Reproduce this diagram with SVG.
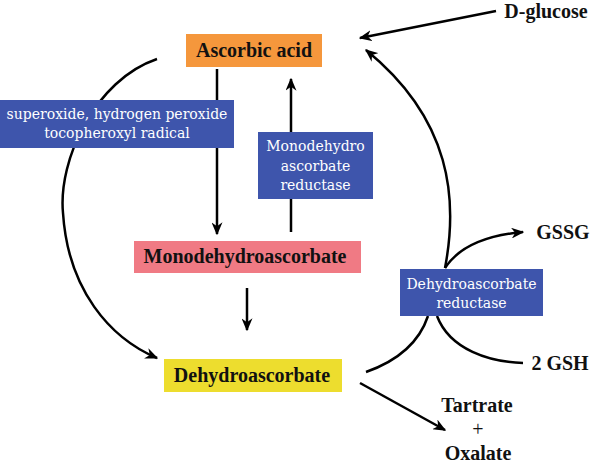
<svg xmlns="http://www.w3.org/2000/svg" width="592" height="465" viewBox="0 0 592 465">
<defs>
<marker id="ah" viewBox="0 0 10 10" refX="9" refY="5" markerWidth="13" markerHeight="11" markerUnits="userSpaceOnUse" orient="auto" preserveAspectRatio="none">
<path d="M0,0 L10,5 L0,10 L3,5 Z" fill="#000"/>
</marker>
<style>
.blk{font-family:"Liberation Serif","Times New Roman",serif;font-weight:bold;font-size:20px;fill:#111;text-anchor:middle}
.wht{font-family:"DejaVu Serif","Liberation Serif",serif;font-size:14px;fill:#fff;text-anchor:middle}
.ln{fill:none;stroke:#000;stroke-width:2.5}
.blue{fill:#3E55AC}
</style>
</defs>
<rect width="592" height="465" fill="#fff"/>
<g id="connectors">
<path class="ln" d="M217,69 L217,234" marker-end="url(#ah)"/>
<path class="ln" d="M291,232 L291,79" marker-end="url(#ah)"/>
<path class="ln" d="M247,288 L247,330" marker-end="url(#ah)"/>
<path class="ln" d="M157,59 C95,80 58,160 63,213 C68,290 110,338 157,358" marker-end="url(#ah)"/>
<path class="ln" d="M445,268 C458,200 452,120 366,50" marker-end="url(#ah)"/>
<path class="ln" d="M496,11 L360,38" marker-end="url(#ah)"/>
<path class="ln" d="M445,268 C460,245 490,235 523,232" marker-end="url(#ah)"/>
<path class="ln" d="M366,372 C400,360 420,340 428,316"/>
<path class="ln" d="M437,316 C450,350 490,362 523,363"/>
<path class="ln" d="M360,383 L445,430" marker-end="url(#ah)"/>
</g>
<g id="ascorbic">
<rect x="186" y="34" width="136" height="33" fill="#F5973C"/>
<text class="blk" x="254" y="57">Ascorbic acid</text>
</g>
<g id="oxidants">
<rect class="blue" x="0" y="100" width="234" height="48"/>
<text class="wht" x="117" y="119">superoxide, hydrogen peroxide</text>
<text class="wht" x="117" y="138">tocopheroxyl radical</text>
</g>
<g id="mdar">
<rect class="blue" x="258" y="132" width="115" height="67"/>
<text class="wht" x="315.5" y="151">Monodehydro</text>
<text class="wht" x="315.5" y="171">ascorbate</text>
<text class="wht" x="315.5" y="190">reductase</text>
</g>
<g id="mda">
<rect x="134" y="241" width="227" height="32" fill="#F07A84"/>
<text class="blk" x="245" y="263">Monodehydroascorbate</text>
</g>
<g id="dha">
<rect x="164" y="359" width="178" height="33" fill="#EDDD2E"/>
<text class="blk" x="252" y="382">Dehydroascorbate</text>
</g>
<g id="dhar">
<rect class="blue" x="400" y="269" width="143" height="47"/>
<text class="wht" x="471.5" y="289">Dehydroascorbate</text>
<text class="wht" x="471.5" y="308">reductase</text>
</g>
<g id="dglucose"><text class="blk" x="546" y="18">D-glucose</text></g>
<g id="gssg"><text class="blk" x="563" y="239">GSSG</text></g>
<g id="gsh"><text class="blk" x="560" y="370">2 GSH</text></g>
<g id="products">
<text class="blk" x="477" y="412">Tartrate</text>
<text class="blk" x="478" y="436" style="font-weight:normal">+</text>
<text class="blk" x="478" y="460">Oxalate</text>
</g>
</svg>
